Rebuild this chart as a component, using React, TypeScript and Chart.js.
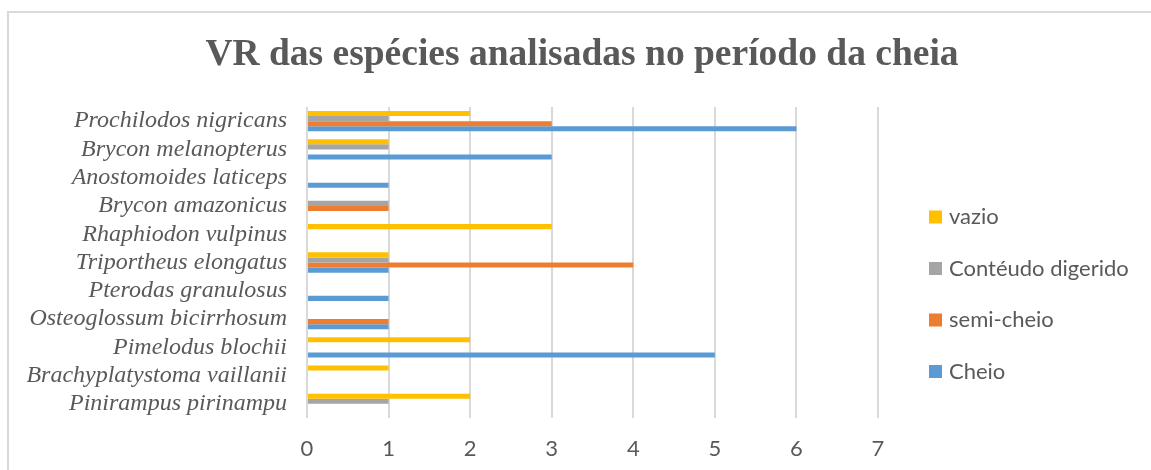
import React, { useEffect, useRef } from "react";
import { Chart, registerables } from "chart.js";

Chart.register(...registerables);

const chartTitle = "VR das espécies analisadas no período da cheia";

const categories = [
  "Prochilodos nigricans",
  "Brycon melanopterus",
  "Anostomoides laticeps",
  "Brycon amazonicus",
  "Rhaphiodon vulpinus",
  "Triportheus elongatus",
  "Pterodas granulosus",
  "Osteoglossum bicirrhosum",
  "Pimelodus blochii",
  "Brachyplatystoma vaillanii",
  "Pinirampus pirinampu",
];

const seriesNames = ["vazio", "Contéudo digerido", "semi-cheio", "Cheio"];
const seriesColors = ["#FFC000", "#A5A5A5", "#ED7D31", "#5B9BD5"];

const vazio = [2, 1, 0, 0, 3, 1, 0, 0, 2, 1, 2];
const digerido = [1, 1, 0, 1, 0, 1, 0, 0, 0, 0, 1];
const semiCheio = [3, 0, 0, 1, 0, 4, 0, 1, 0, 0, 0];
const cheio = [6, 3, 1, 0, 0, 1, 1, 1, 5, 0, 0];

const xTickValues = [0, 1, 2, 3, 4, 5, 6, 7];

const TEXT = "#595959";
const GRID = "#d9d9d9";
const SANS = "Lato, 'Liberation Sans', sans-serif";
const SERIF = "'Liberation Serif', 'Times New Roman', serif";

const sideLegend = {
  id: "sideLegend",
  afterDraw(chart: any) {
    const { ctx, chartArea } = chart;
    ctx.save();
    ctx.font = `22px ${SANS}`;
    ctx.textBaseline = "middle";
    ctx.textAlign = "left";
    chart.data.datasets.forEach((ds: any, i: number) => {
      const cy = chartArea.top + 110 + i * 51.5;
      const bx = chartArea.right + 51;
      ctx.fillStyle = ds.backgroundColor;
      ctx.fillRect(bx, cy - 6.5, 13, 13);
      ctx.fillStyle = TEXT;
      ctx.fillText(ds.label, bx + 20, cy);
    });
    ctx.restore();
  },
};

export default function App() {
  const canvasRef = useRef<HTMLCanvasElement | null>(null);

  useEffect(() => {
    if (!canvasRef.current) return;
    const values = [vazio, digerido, semiCheio, cheio];
    const chart = new Chart(canvasRef.current, {
      type: "bar",
      data: {
        labels: categories,
        datasets: seriesNames.map((name, i) => ({
          label: name,
          data: values[i],
          backgroundColor: seriesColors[i],
          borderWidth: 0,
          categoryPercentage: 0.72,
          barPercentage: 1.0,
        })),
      },
      options: {
        indexAxis: "y",
        responsive: false,
        animation: false,
        layout: { padding: { left: 13, right: 0, top: 0, bottom: 0 } },
        plugins: {
          legend: { display: false },
          tooltip: { enabled: false },
          title: {
            display: true,
            text: chartTitle,
            color: TEXT,
            font: { family: SERIF, size: 37.5, weight: "bold" },
            padding: { top: 33, bottom: 29 },
          },
        },
        scales: {
          x: {
            type: "linear",
            min: 0,
            max: 7,
            afterBuildTicks: (s: any) => {
              s.ticks = xTickValues.map((v) => ({ value: v }));
            },
            ticks: {
              color: TEXT,
              font: { family: SANS, size: 22 },
              padding: 18,
            },
            grid: { color: GRID, lineWidth: 2, drawTicks: false },
            border: { display: false },
            afterFit: (s: any) => {
              s.height = 52;
            },
          },
          y: {
            type: "category",
            ticks: {
              color: TEXT,
              font: { family: SERIF, size: 24, style: "italic" },
              padding: 20,
              autoSkip: false,
            },
            grid: { display: false, drawTicks: false },
            border: { display: false },
            afterFit: (s: any) => {
              s.width = 294;
            },
          },
          spacer: {
            type: "category",
            position: "right",
            ticks: { display: false },
            grid: { display: false, drawTicks: false },
            border: { display: false },
            afterFit: (s: any) => {
              s.width = 273;
            },
          },
        },
      },
      plugins: [sideLegend],
    } as any);
    return () => chart.destroy();
  }, []);

  return (
    <div
      style={{
        position: "fixed",
        left: 0,
        top: 0,
        width: 1151,
        height: 470,
        overflow: "hidden",
        background: "#ffffff",
      }}
    >
      <canvas
        ref={canvasRef}
        width={1151}
        height={470}
        style={{ position: "absolute", left: 0, top: 0, width: 1151, height: 470 }}
      />
      <div
        style={{
          position: "absolute",
          left: 7,
          top: 11,
          width: 1300,
          height: 600,
          border: `2px solid ${GRID}`,
          boxSizing: "border-box",
          pointerEvents: "none",
        }}
      />
    </div>
  );
}
